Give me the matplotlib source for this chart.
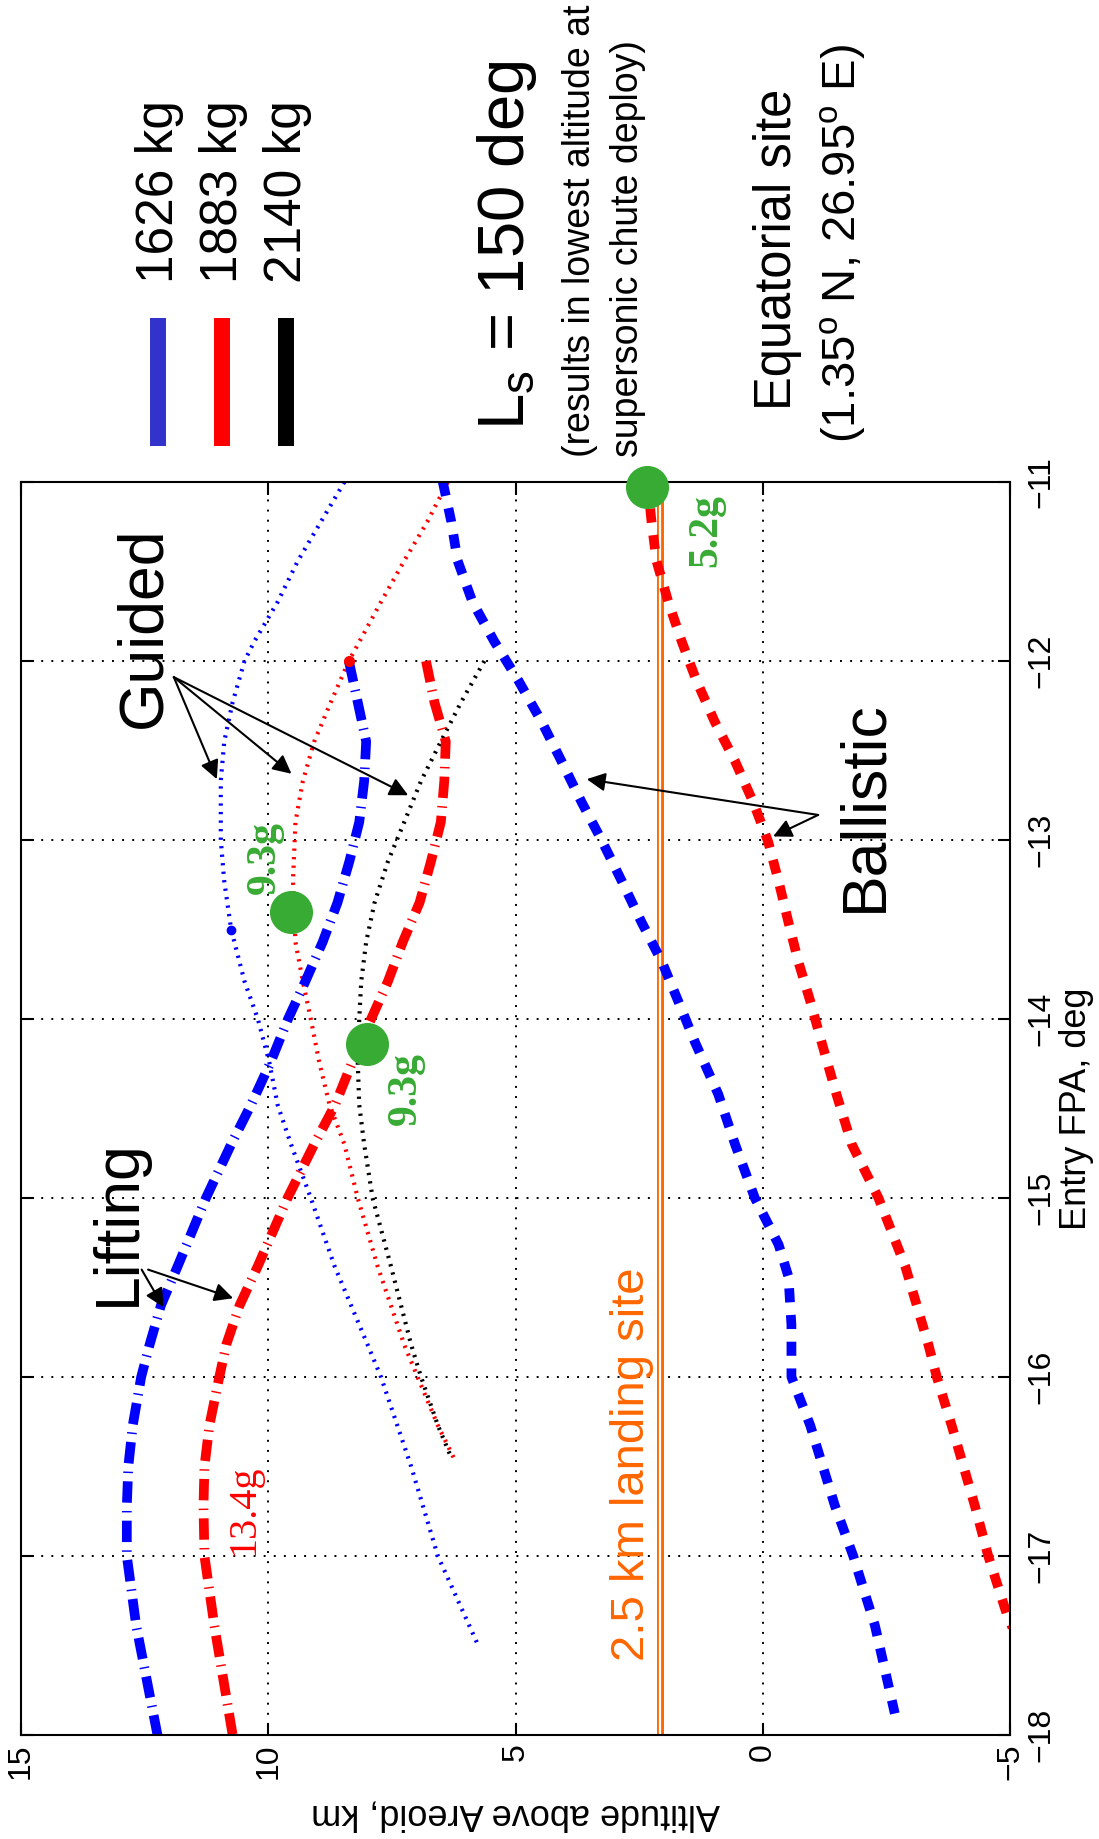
import matplotlib
matplotlib.use('Agg')
import matplotlib.pyplot as plt
from matplotlib.lines import Line2D

plt.rcParams['font.family'] = ['Liberation Sans', 'DejaVu Sans']
plt.rcParams['mathtext.default'] = 'regular'

# ---- data (altitude km vs entry FPA deg) ----
guided_1626_fpa = [-11, -11.22, -11.44, -11.67, -11.89, -12, -12.23, -12.45, -12.67, -13.0, -13.23,
                   -13.5, -13.79, -14.0, -14.24, -14.48, -14.7, -15.0, -15.38, -15.82, -16.0, -16.5,
                   -17.0, -17.49]
guided_1626_alt = [8.46, 8.93, 9.40, 9.81, 10.28, 10.48, 10.72, 10.89, 10.96, 10.96, 10.89,
                   10.75, 10.48, 10.21, 9.98, 9.81, 9.54, 9.14, 8.66, 7.99, 7.72, 7.11,
                   6.57, 5.77]

guided_1883_fpa = [-11, -11.22, -11.44, -11.67, -12, -12.24, -12.45, -12.67, -12.9, -13.23, -13.57,
                   -13.79, -14.0, -14.24, -14.48, -14.7, -15.0, -15.38, -15.82, -16.0, -16.27, -16.48]
guided_1883_alt = [6.37, 6.78, 7.25, 7.72, 8.37, 8.75, 9.07, 9.30, 9.45, 9.50, 9.45,
                   9.30, 9.14, 8.97, 8.76, 8.46, 8.19, 7.79, 7.25, 6.98, 6.57, 6.20]

guided_2140_fpa = [-12, -12.23, -12.45, -12.67, -12.9, -13.12, -13.35, -13.57, -13.79, -14.0, -14.24,
                   -14.48, -14.7, -15.0, -15.38, -15.82, -16.0, -16.27, -16.45]
guided_2140_alt = [5.63, 6.10, 6.51, 6.91, 7.25, 7.58, 7.85, 8.02, 8.12, 8.16, 8.19,
                   8.16, 8.06, 7.89, 7.52, 7.11, 6.91, 6.57, 6.30]

lifting_fpa = [-12, -12.23, -12.45, -12.67, -12.9, -13.12, -13.35, -13.57, -13.79, -14.0, -14.24,
               -14.48, -14.7, -15.0, -15.38, -15.6, -15.82, -16.0, -16.27, -16.5, -16.72, -17.0,
               -17.39, -18.0]
lifting_1626_alt = [8.37, 8.19, 8.02, 8.06, 8.16, 8.36, 8.60, 8.90, 9.25, 9.60, 9.95,
                    10.35, 10.75, 11.26, 11.83, 12.17, 12.40, 12.57, 12.74, 12.83, 12.86, 12.86,
                    12.67, 12.24]
lifting_1883_alt = [6.81, 6.64, 6.41, 6.44, 6.51, 6.71, 6.94, 7.28, 7.58, 7.92, 8.30,
                    8.65, 9.07, 9.61, 10.21, 10.58, 10.85, 10.99, 11.19, 11.29, 11.31, 11.29,
                    11.09, 10.72]

ballistic_1626_fpa = [-11, -11.22, -11.44, -11.67, -11.89, -12.11, -12.34, -12.56, -12.79, -13.0,
                      -13.23, -13.46, -13.68, -13.9, -14.13, -14.42, -14.7, -15.0, -15.26, -15.44,
                      -15.71, -16.0, -16.27, -16.72, -17.0, -17.39, -17.88]
ballistic_1626_alt = [6.47, 6.30, 6.17, 5.87, 5.43, 4.94, 4.47, 4.07, 3.66, 3.26,
                      2.85, 2.45, 2.04, 1.71, 1.37, 0.90, 0.56, 0.16, -0.32, -0.52,
                      -0.58, -0.58, -0.96, -1.46, -1.83, -2.27, -2.67]

ballistic_1883_fpa = [-11.0, -11.22, -11.44, -11.67, -11.89, -12.11, -12.34, -12.56, -12.79, -13.01,
                      -13.23, -13.46, -13.68, -13.9, -14.13, -14.42, -14.7, -15.0, -15.38, -15.82,
                      -16.0, -16.27, -16.72, -17.0, -17.32, -17.4]
ballistic_1883_alt = [2.33, 2.25, 2.15, 1.91, 1.64, 1.34, 0.97, 0.56, 0.19, -0.11,
                      -0.32, -0.52, -0.72, -0.96, -1.19, -1.49, -1.80, -2.34, -2.88, -3.35,
                      -3.52, -3.82, -4.29, -4.56, -4.93, -5.05]

landing_alt = 2.08
gload_fpa = [-11.03, -13.40, -14.14]
gload_alt = [2.35, 9.55, 8.0]
gload_text = ['5.2g', '9.3g', '9.3g']

masses = ['1626 kg', '1883 kg', '2140 kg']
mass_colors = ['#3333cc', 'red', 'black']

alt_ticks = [15, 10, 5, 0, -5]
fpa_ticks = [-18, -17, -16, -15, -14, -13, -12, -11]

W, H = 1099, 1839
def fx(x):
    return x / W
def fy(y):
    return 1 - y / H

fig = plt.figure(figsize=(W / 100, H / 100), dpi=100)
ax = fig.add_axes([fx(21), fy(1735), (1010 - 21) / W, (1735 - 482) / H])

dot = dict(lw=3, linestyle=(0, (0.55, 1.5)))
dash = dict(lw=7, linestyle=(0, (1.45, 1.3)))
dashdot = dict(lw=7, linestyle=(0, (2.2, 0.85, 0.15, 0.85)))

ax.axvline(landing_alt, color='#ff6600', lw=5, zorder=1)
ax.axvline(landing_alt, color='white', lw=1.6, zorder=1.1)

ax.plot(guided_1626_alt, guided_1626_fpa, color='blue', **dot)
ax.plot(guided_1883_alt, guided_1883_fpa, color='red', **dot)
ax.plot(guided_2140_alt, guided_2140_fpa, color='black', **dot)
ax.plot(lifting_1626_alt, lifting_fpa, color='blue', **dashdot)
ax.plot(lifting_1883_alt, lifting_fpa, color='red', **dashdot)
ax.plot(ballistic_1626_alt, ballistic_1626_fpa, color='blue', **dash)
ax.plot(ballistic_1883_alt, ballistic_1883_fpa, color='red', **dash)

# small point markers on guided curves
ax.plot(guided_1626_alt[11], guided_1626_fpa[11], 'o', color='blue', ms=6)
ax.plot(guided_1883_alt[4], guided_1883_fpa[4], 'o', color='red', ms=7)

ax.plot(gload_alt, gload_fpa, 'o', color='#38ab34', ms=31, mec='none', clip_on=False, zorder=5)

gfont = dict(family=['Liberation Serif', 'DejaVu Serif'], fontweight='bold', fontsize=30,
             color='#38ab34', rotation=90, ha='center', va='center')
ax.text(1.15, -11.27, gload_text[0], **gfont)
ax.text(10.07, -13.10, gload_text[1], **gfont)
ax.text(7.21, -14.39, gload_text[2], **gfont)
ax.text(10.49, -16.74, '13.4g', family=['Liberation Serif', 'DejaVu Serif'], fontsize=29,
        color='red', rotation=90, ha='center', va='center')

big = dict(fontsize=45, rotation=90, ha='center', va='center')
ax.text(12.51, -11.81, 'Guided', **big)
ax.text(13.04, -15.14, 'Lifting', **big)
ax.text(-2.07, -12.81, 'Ballistic', **big)
ax.text(2.64, -16.49, '2.5 km landing site', fontsize=34, color='#ff6600', rotation=90,
        ha='center', va='center')

arrow = dict(arrowstyle='-|>', color='k', lw=1.5, mutation_scale=28, shrinkA=0, shrinkB=0)
for tgt in [(11.04, -12.66), (9.53, -12.63), (7.17, -12.75)]:
    ax.annotate('', xy=tgt, xytext=(11.91, -12.09), arrowprops=arrow)
for tgt in [(3.56, -12.66), (-0.21, -12.98)]:
    ax.annotate('', xy=tgt, xytext=(-1.12, -12.86), arrowprops=arrow)
ax.annotate('', xy=(12.12, -15.61), xytext=(12.56, -15.40), arrowprops=arrow)
ax.annotate('', xy=(10.71, -15.56), xytext=(12.43, -15.40), arrowprops=arrow)

ax.set_xlim(15, -5)
ax.set_ylim(-18, -11)
ax.set_xticks(alt_ticks)
ax.set_yticks(fpa_ticks)
ax.grid(True, color='k', lw=1.4, linestyle=(0, (1, 4.2)))
ax.set_axisbelow(True)
for s in ax.spines.values():
    s.set_linewidth(1.5)
ax.yaxis.tick_right()
ax.yaxis.set_label_position('right')
ax.tick_params(direction='in', length=9, width=1.5, top=True, bottom=True, left=True, right=True,
               labelsize=23)
ax.tick_params(axis='x', pad=6)
ax.tick_params(axis='y', pad=12)
for lab in ax.get_xticklabels():
    lab.set_rotation(90)
for lab in ax.get_yticklabels():
    lab.set_rotation(90)
    lab.set_va('center')
ax.set_xlabel('Altitude above Areoid, km', fontsize=26, rotation=180, labelpad=12)
ax.set_ylabel('Entry FPA, deg', fontsize=26, rotation=90, labelpad=2)

# legend drawn rotated at top
for i, (name, c) in enumerate(zip(masses, mass_colors)):
    xc = 158 + 64 * i
    fig.add_artist(Line2D([fx(xc), fx(xc)], [fy(318), fy(446)], color=c, lw=11.5,
                          solid_capstyle='butt'))
    fig.text(fx(xc + 2), fy(283), name, fontsize=37, rotation=90, ha='center', va='bottom')

fig.text(fx(507), fy(430), r'L$_\mathregular{s}$ = 150 deg', fontsize=47, rotation=90,
         ha='center', va='bottom')
fig.text(fx(580), fy(457), '(results in lowest altitude at', fontsize=27, rotation=90,
         ha='center', va='bottom')
fig.text(fx(628), fy(457), 'supersonic chute deploy)', fontsize=27, rotation=90,
         ha='center', va='bottom')
fig.text(fx(778), fy(410), 'Equatorial site', fontsize=36.5, rotation=90,
         ha='center', va='bottom')
fig.text(fx(843), fy(443), r'(1.35$^\mathregular{o}$ N, 26.95$^\mathregular{o}$ E)', fontsize=34,
         rotation=90, ha='center', va='bottom')

fig.savefig('out.png', dpi=100, facecolor='white')
